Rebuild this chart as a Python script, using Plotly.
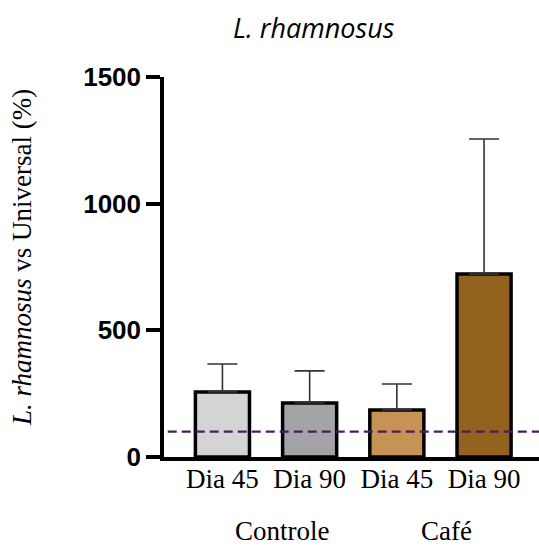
import plotly.graph_objects as go

categories = ["Dia 45", "Dia 90", "Dia 45 ", "Dia 90 "]
tick_labels = ["Dia 45", "Dia 90", "Dia 45", "Dia 90"]
means = [257, 213, 186, 722]
sem_upper = [110, 127, 102, 533]
bar_colors = ["#d4d4d4", "#a4a3a7", "#c69354", "#93621f"]
groups = ["Controle", "Café"]
reference_level = 100

SERIF = "Liberation Serif, Times New Roman, serif"
xs = list(range(len(categories)))

fig = go.Figure()
fig.add_trace(go.Bar(
    x=xs, y=means, width=0.62,
    marker=dict(color=bar_colors, line=dict(color="black", width=3.5)),
    error_y=dict(type="data", array=sem_upper, arrayminus=[0]*len(means),
                 symmetric=False, color="#333333", thickness=1.6, width=15),
    showlegend=False,
))

fig.add_shape(type="line", xref="paper", yref="y", x0=0.01, x1=1,
              y0=reference_level, y1=reference_level,
              line=dict(color="#4b1d5e", width=2.2, dash="9px,5px"), layer="above")

fig.update_layout(
    width=539, height=560,
    margin=dict(l=164, r=0, t=77, b=103),
    plot_bgcolor="white", paper_bgcolor="white",
)
fig.update_xaxes(
    range=[-0.67, 3.63], tickmode="array", tickvals=xs, ticktext=tick_labels,
    showline=True, linecolor="black", linewidth=3.5, ticks="", showgrid=False,
    zeroline=False, ticklabelstandoff=-5,
    tickfont=dict(family=SERIF, size=27, color="black"),
)
fig.update_yaxes(
    range=[0, 1500], tickvals=[0, 500, 1000, 1500],
    showline=True, linecolor="black", linewidth=3.5, ticks="outside",
    ticklen=14, tickwidth=3.5, tickcolor="black", showgrid=False, zeroline=False,
    tickfont=dict(family="Liberation Sans, Arial, sans-serif", size=26, color="black", weight="bold"),
)

fig.add_annotation(text="<i>L. rhamnosus</i>", xref="paper", yref="paper",
                   x=(314-164)/375, y=1+(77-28)/380, xanchor="center", yanchor="middle",
                   showarrow=False,
                   font=dict(family="Open Sans", size=27, color="black"))
fig.add_annotation(text="<i>L. rhamnosus</i> vs Universal (%)", xref="paper", yref="paper",
                   x=(22-164)/375, y=(457-258)/380, xanchor="center", yanchor="middle",
                   textangle=-90, showarrow=False,
                   font=dict(family=SERIF, size=27, color="black"))
for gx, g in zip([0.69, 2.57], groups):
    fig.add_annotation(text=g, xref="x", yref="paper", x=gx, y=-(531-457)/380,
                       xanchor="center", yanchor="middle", showarrow=False,
                       font=dict(family=SERIF, size=27, color="black"))

fig.write_html("out.html")
